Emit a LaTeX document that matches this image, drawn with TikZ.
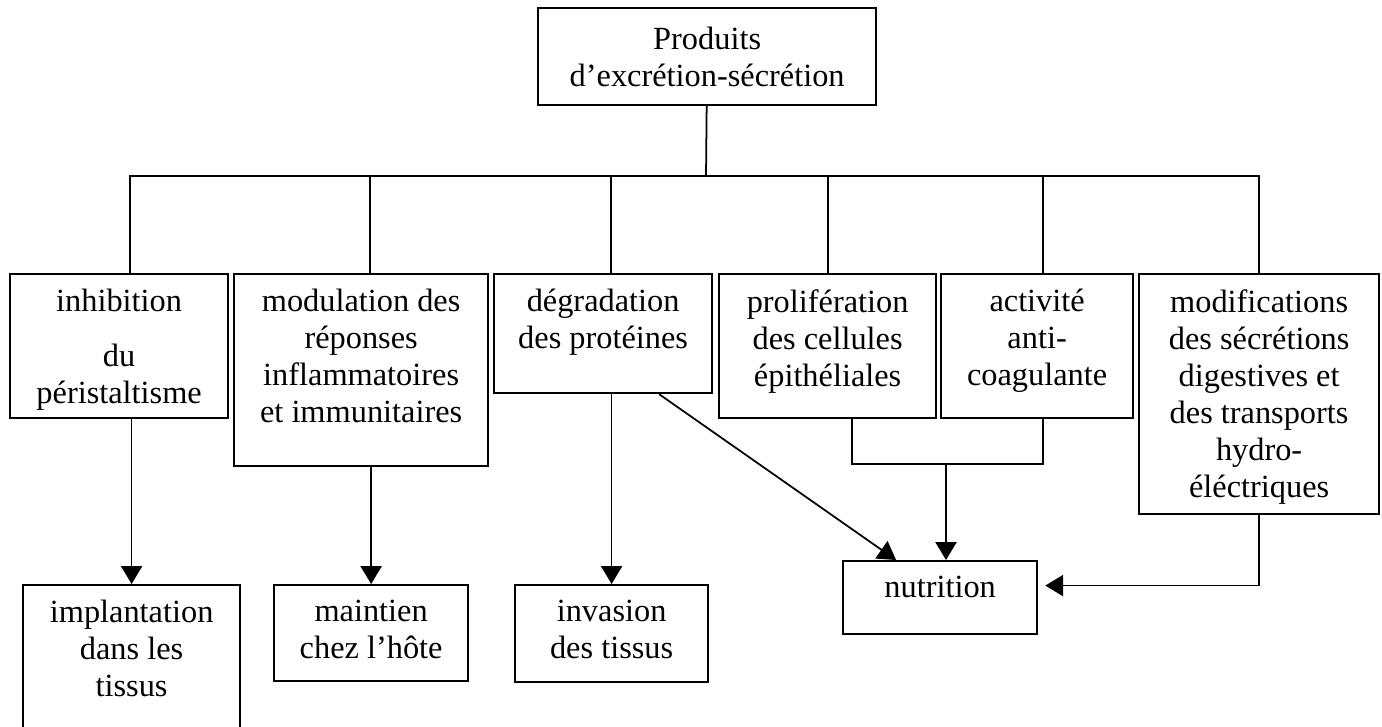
\documentclass[tikz,border=0pt]{standalone}
\usepackage{fontspec}
\setmainfont{Liberation Serif}
\usetikzlibrary{arrows.meta}
\tikzset{
  box/.style={draw, line width=0.6pt, inner sep=0pt, anchor=north west},
  txt/.style={align=center, anchor=north, inner sep=0pt},
  link/.style={line width=0.5pt},
  arr/.style={link, -{Triangle[length=5.1pt,width=6pt]}}
}

\begin{document}
\begin{tikzpicture}[x=0.01cm, y=-0.01cm, font=\fontsize{9.2}{10.53}\selectfont]
	\useasboundingbox (0,0) rectangle (1382,726);
	\clip (0,0) rectangle (1382,726);
	% boxes
	\node[box, minimum width=3.38cm, minimum height=0.97cm] (prod) at (537,7) {};
	\node[box, minimum width=2.18cm, minimum height=1.44cm] (inh) at (9,273) {};
	\node[box, minimum width=2.54cm, minimum height=1.92cm] (mod) at (233,273) {};
	\node[box, minimum width=2.18cm, minimum height=1.19cm] (deg) at (493,273) {};
	\node[box, minimum width=2.17cm, minimum height=1.44cm] (pro) at (718,273) {};
	\node[box, minimum width=1.92cm, minimum height=1.44cm] (act) at (940,273) {};
	\node[box, minimum width=2.40cm, minimum height=2.40cm] (mdf) at (1138,273) {};
	\node[box, minimum width=2.17cm, minimum height=2.00cm] (impl) at (22,584) {};
	\node[box, minimum width=1.94cm, minimum height=0.96cm] (maint) at (273,584) {};
	\node[box, minimum width=1.93cm, minimum height=0.97cm] (inv) at (514,584) {};
	\node[box, minimum width=1.94cm, minimum height=0.73cm] (nut) at (842,560) {};
	% texts
	\node[txt] (prod-t) at ([yshift=-0.19cm]prod.north) {Produits\\d’excrétion-sécrétion};
	\node[txt] (inh-t) at ([yshift=-0.156cm]inh.north) {inhibition\\[0.18cm]du\\péristaltisme};
	\node[txt] (mod-t) at ([yshift=-0.156cm]mod.north) {modulation des\\réponses\\inflammatoires\\et immunitaires};
	\node[txt] (deg-t) at ([yshift=-0.156cm]deg.north) {dégradation\\des protéines};
	\node[txt] (pro-t) at ([yshift=-0.156cm]pro.north) {prolifération\\des cellules\\épithéliales};
	\node[txt] (act-t) at ([yshift=-0.156cm]act.north) {activité\\anti-\\coagulante};
	\node[txt] (mdf-t) at ([yshift=-0.156cm]mdf.north) {modifications\\des sécrétions\\digestives et\\des transports\\hydro-\\éléctriques};
	\node[txt] (impl-t) at ([yshift=-0.156cm]impl.north) {implantation\\dans les\\tissus};
	\node[txt] (maint-t) at ([yshift=-0.156cm]maint.north) {maintien\\chez l’hôte};
	\node[txt] (inv-t) at ([yshift=-0.156cm]inv.north) {invasion\\des tissus};
	\node[txt] (nut-t) at ([yshift=-0.156cm]nut.north) {nutrition};
	% tree
	\coordinate (bus) at (706,176);
	\coordinate (join) at (946,464);
	\draw[link] (prod) -- (bus);
	\foreach \n/\s in {inh/.11, mod/.09, deg/.08, pro/0, act/.06, mdf/0}
		\draw[link] ([xshift=\s cm]\n.north) |- (bus);
	% arrows
	\draw[arr] (impl.north |- inh.south) -- (impl.north);
	\draw[arr] (maint.north |- mod.south) -- (maint.north);
	\draw[arr] (inv.north |- deg.south) -- (inv.north);
	\draw[arr] ([xshift=0.56cm]deg.south) -- ([xshift=-0.44cm]nut.north);
	\draw[link] ([xshift=0.24cm]pro.south) |- (join);
	\draw[link] ([xshift=0.06cm]act.south) |- (join);
	\draw[arr] (join) -- (join |- nut.north);
	\draw[arr] (mdf.south) |- ([xshift=0.07cm, yshift=0.12cm]nut.east);
\end{tikzpicture}
\end{document}
